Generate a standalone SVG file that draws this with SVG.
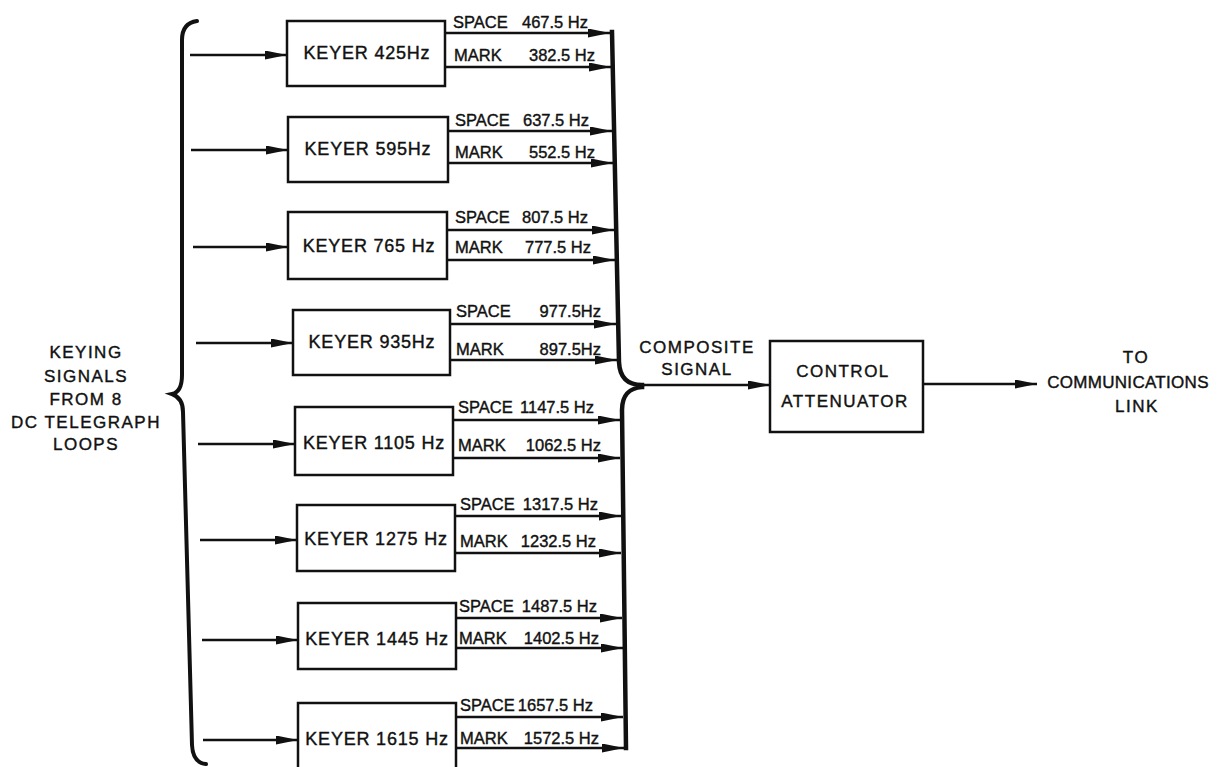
<svg xmlns="http://www.w3.org/2000/svg" width="1223" height="767" viewBox="0 0 1223 767">
<style>
.box{fill:#fff;stroke:#111;stroke-width:2.5}
.ln{fill:none;stroke:#111;stroke-width:2.6}
.bus{fill:none;stroke:#111;stroke-width:4.5;stroke-linecap:square}
.brace{fill:none;stroke:#111;stroke-width:4;stroke-linecap:round}
text{font-family:"Liberation Sans",Arial,sans-serif;fill:#111;stroke:#111;stroke-width:0.4}
.k{font-size:18px;letter-spacing:0.8px;text-anchor:middle}
.f{font-size:16.5px}
.fe{font-size:16.5px;text-anchor:end}
.c{font-size:17px;letter-spacing:1.5px;text-anchor:middle}
</style>
<defs>
<marker id="ah" viewBox="0 0 22 9" refX="22" refY="4.5" markerWidth="22" markerHeight="9" markerUnits="userSpaceOnUse" orient="auto">
<path d="M0,0 L22,4.5 L0,9 z" fill="#111"/>
</marker>
</defs>
<rect width="1223" height="767" fill="#fff"/>

<g id="brace">
<path class="brace" d="M197,21 Q182,23 182,40 L182,375 Q182,392 172,394 Q183,398 183,412 L192,745 Q193,763 206,764"/>
</g>

<g id="input-label">
<text class="c" x="86" y="358">KEYING</text>
<text class="c" x="86" y="382">SIGNALS</text>
<text class="c" x="86" y="405">FROM 8</text>
<text class="c" x="86" y="428">DC TELEGRAPH</text>
<text class="c" x="86" y="450">LOOPS</text>
</g>

<g id="connectors">
<line class="ln" x1="190" y1="55" x2="287" y2="55" marker-end="url(#ah)"/>
<line class="ln" x1="191" y1="150" x2="288" y2="150" marker-end="url(#ah)"/>
<line class="ln" x1="193" y1="247" x2="288" y2="247" marker-end="url(#ah)"/>
<line class="ln" x1="196" y1="343" x2="293" y2="343" marker-end="url(#ah)"/>
<line class="ln" x1="198" y1="444" x2="295" y2="444" marker-end="url(#ah)"/>
<line class="ln" x1="200" y1="540" x2="297" y2="540" marker-end="url(#ah)"/>
<line class="ln" x1="202" y1="640" x2="298" y2="640" marker-end="url(#ah)"/>
<line class="ln" x1="203" y1="740" x2="298" y2="740" marker-end="url(#ah)"/>
<line class="ln" x1="445" y1="33" x2="610" y2="33" marker-end="url(#ah)"/>
<line class="ln" x1="445" y1="67" x2="611" y2="67" marker-end="url(#ah)"/>
<line class="ln" x1="448" y1="131" x2="612" y2="131" marker-end="url(#ah)"/>
<line class="ln" x1="448" y1="163" x2="613" y2="163" marker-end="url(#ah)"/>
<line class="ln" x1="447" y1="230" x2="614" y2="230" marker-end="url(#ah)"/>
<line class="ln" x1="447" y1="260" x2="615" y2="260" marker-end="url(#ah)"/>
<line class="ln" x1="450" y1="324" x2="616" y2="324" marker-end="url(#ah)"/>
<line class="ln" x1="450" y1="360" x2="617" y2="360" marker-end="url(#ah)"/>
<line class="ln" x1="453" y1="420" x2="620" y2="420" marker-end="url(#ah)"/>
<line class="ln" x1="453" y1="458" x2="620" y2="458" marker-end="url(#ah)"/>
<line class="ln" x1="455" y1="516" x2="621" y2="516" marker-end="url(#ah)"/>
<line class="ln" x1="455" y1="553" x2="621" y2="553" marker-end="url(#ah)"/>
<line class="ln" x1="456" y1="618" x2="622" y2="618" marker-end="url(#ah)"/>
<line class="ln" x1="456" y1="648" x2="623" y2="648" marker-end="url(#ah)"/>
<line class="ln" x1="456" y1="717" x2="623" y2="717" marker-end="url(#ah)"/>
<line class="ln" x1="456" y1="748" x2="624" y2="748" marker-end="url(#ah)"/>
<path class="bus" d="M612,32 L619,362 Q620,385 642,385"/>
<path class="bus" d="M642,387 Q622,388 622,410 L626,748"/>
<line class="ln" x1="640" y1="385" x2="770" y2="385" stroke-width="3" marker-end="url(#ah)"/>
<line class="ln" x1="923" y1="384" x2="1037" y2="384" stroke-width="3" marker-end="url(#ah)"/>
</g>

<g id="keyer1">
<rect class="box" x="287" y="21" width="158" height="65"/>
<text class="k" x="367" y="59">KEYER 425Hz</text>
<text class="f" x="453" y="28">SPACE</text><text class="fe" x="588" y="28">467.5 Hz</text>
<text class="f" x="454" y="61">MARK</text><text class="fe" x="595" y="61">382.5 Hz</text>
</g>
<g id="keyer2">
<rect class="box" x="288" y="117" width="160" height="65"/>
<text class="k" x="368" y="155">KEYER 595Hz</text>
<text class="f" x="455" y="126">SPACE</text><text class="fe" x="589" y="126">637.5 Hz</text>
<text class="f" x="455" y="158">MARK</text><text class="fe" x="595" y="158">552.5 Hz</text>
</g>
<g id="keyer3">
<rect class="box" x="288" y="212" width="159" height="67"/>
<text class="k" x="369" y="252">KEYER 765 Hz</text>
<text class="f" x="455" y="223">SPACE</text><text class="fe" x="588" y="223">807.5 Hz</text>
<text class="f" x="455" y="253">MARK</text><text class="fe" x="591" y="253">777.5 Hz</text>
</g>
<g id="keyer4">
<rect class="box" x="293" y="310" width="157" height="65"/>
<text class="k" x="372" y="348">KEYER 935Hz</text>
<text class="f" x="456" y="317">SPACE</text><text class="fe" x="601" y="317">977.5Hz</text>
<text class="f" x="456" y="355">MARK</text><text class="fe" x="601" y="355">897.5Hz</text>
</g>
<g id="keyer5">
<rect class="box" x="295" y="407" width="158" height="68"/>
<text class="k" x="374" y="449">KEYER 1105 Hz</text>
<text class="f" x="458" y="413">SPACE</text><text class="fe" x="594" y="413">1147.5 Hz</text>
<text class="f" x="458" y="451">MARK</text><text class="fe" x="601" y="451">1062.5 Hz</text>
</g>
<g id="keyer6">
<rect class="box" x="297" y="505" width="158" height="66"/>
<text class="k" x="376" y="545">KEYER 1275 Hz</text>
<text class="f" x="460" y="510">SPACE</text><text class="fe" x="598" y="510">1317.5 Hz</text>
<text class="f" x="460" y="547">MARK</text><text class="fe" x="596" y="547">1232.5 Hz</text>
</g>
<g id="keyer7">
<rect class="box" x="298" y="603" width="158" height="66"/>
<text class="k" x="377" y="645">KEYER 1445 Hz</text>
<text class="f" x="459" y="612">SPACE</text><text class="fe" x="597" y="612">1487.5 Hz</text>
<text class="f" x="459" y="644">MARK</text><text class="fe" x="599" y="644">1402.5 Hz</text>
</g>
<g id="keyer8">
<rect class="box" x="298" y="703" width="158" height="70"/>
<text class="k" x="377" y="745">KEYER  1615 Hz</text>
<text class="f" x="460" y="711">SPACE</text><text class="fe" x="593" y="711">1657.5 Hz</text>
<text class="f" x="460" y="744">MARK</text><text class="fe" x="599" y="744">1572.5 Hz</text>
</g>

<g id="composite-label">
<text class="c" x="697" y="353">COMPOSITE</text>
<text class="c" x="697" y="375">SIGNAL</text>
</g>

<g id="attenuator">
<rect class="box" x="770" y="341" width="153" height="91"/>
<text class="c" x="843" y="377">CONTROL</text>
<text class="c" x="845" y="407">ATTENUATOR</text>
</g>

<g id="output-label">
<text class="c" x="1136" y="363">TO</text>
<text class="c" x="1128" y="388" style="letter-spacing:0.3px">COMMUNICATIONS</text>
<text class="c" x="1137" y="412">LINK</text>
</g>
</svg>
